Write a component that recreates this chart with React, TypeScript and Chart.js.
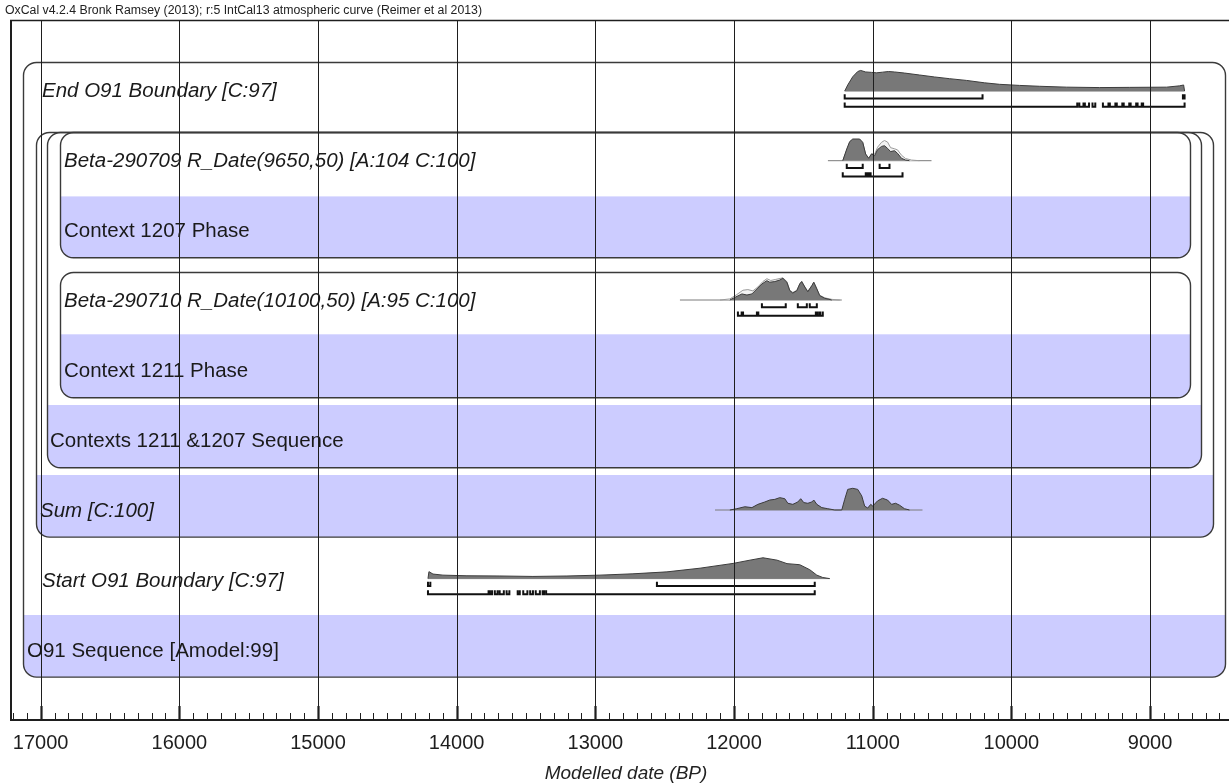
import React, { useEffect, useRef } from "react";
import { Chart, registerables } from "chart.js";

Chart.register(...registerables);

// ---------- text ----------
const HEADER = "OxCal v4.2.4 Bronk Ramsey (2013); r:5 IntCal13 atmospheric curve (Reimer et al 2013)";
const AXIS_TITLE = "Modelled date (BP)";
const MAJOR_TICKS = [17000, 16000, 15000, 14000, 13000, 12000, 11000, 10000, 9000];
const X_MIN = 8337;
const X_MAX = 17221;

const ROW_LABELS = [
  "End O91 Boundary [C:97]",
  "Beta-290709 R_Date(9650,50) [A:104 C:100]",
  "Context 1207 Phase",
  "Beta-290710 R_Date(10100,50) [A:95 C:100]",
  "Context 1211 Phase",
  "Contexts 1211 &1207 Sequence",
  "Sum [C:100]",
  "Start O91 Boundary [C:97]",
  "O91 Sequence [Amodel:99]",
];
const ROW_ITALIC = [true, true, false, true, false, false, true, true, false];

// ---------- End O91 Boundary ----------
const END_YEARS = [11202, 11180, 11144, 11108, 11087, 11051, 11008, 10972, 10929, 10886, 10843, 10771, 10663, 10555, 10446, 10324, 10194, 10085, 9941, 9797, 9602, 9364, 9148, 8881, 8787, 8758, 8751];
const END_DENS = [0, 0.28, 0.66, 0.9, 0.95, 0.88, 0.86, 0.84, 0.87, 0.9, 0.88, 0.83, 0.74, 0.65, 0.57, 0.49, 0.38, 0.31, 0.26, 0.22, 0.18, 0.16, 0.17, 0.18, 0.24, 0.28, 0];
const END_EXTENT = [11202, 8751];
const END_R68 = [[11202, 10208], [8763, 8751]];
const END_R95 = [[11202, 9525], [9510, 9480], [9470, 9440], [9415, 9395], [9340, 9300], [9290, 9250], [9240, 9200], [9190, 9150], [9140, 9100], [9090, 9060], [9050, 8751]];

// ---------- Beta-290709 ----------
const B709_YEARS = [11216, 11187, 11166, 11144, 11094, 11072, 11051, 11029, 11008, 10986, 10965, 10936, 10915, 10893, 10871, 10843, 10821, 10792, 10763, 10735];
const B709_DENS = [0, 0.54, 0.88, 1.0, 1.0, 0.85, 0.31, 0.11, 0.31, 0.23, 0.51, 0.66, 0.69, 0.57, 0.42, 0.46, 0.34, 0.11, 0.03, 0];
const B709_PRIOR_YEARS = [11216, 11187, 11166, 11144, 11094, 11072, 11051, 11029, 11008, 10986, 10965, 10936, 10915, 10893, 10871, 10843, 10821, 10792, 10763, 10720, 10663];
const B709_PRIOR_DENS = [0, 0.5, 0.85, 0.97, 0.97, 0.83, 0.3, 0.12, 0.33, 0.3, 0.62, 0.85, 0.93, 0.86, 0.6, 0.55, 0.5, 0.25, 0.1, 0.03, 0];
const B709_EXTENT = [11323, 10576];
const B709_R68 = [[11187, 11072], [10950, 10879]];
const B709_R95 = [[11216, 11050], [11040, 11028], [11015, 10785]];

// ---------- Beta-290710 ----------
const B710_YEARS = [12030, 11994, 11943, 11907, 11871, 11835, 11799, 11763, 11742, 11706, 11670, 11648, 11619, 11598, 11576, 11547, 11526, 11512, 11490, 11468, 11439, 11425, 11403, 11382, 11346, 11295];
const B710_DENS = [0, 0.12, 0.28, 0.23, 0.28, 0.51, 0.74, 0.89, 0.82, 0.85, 0.92, 1.0, 0.82, 0.43, 0.32, 0.43, 0.74, 0.85, 0.6, 0.38, 0.66, 0.82, 0.51, 0.2, 0.08, 0];
const B710_PRIOR_YEARS = [12101, 12030, 11980, 11936, 11900, 11864, 11828, 11792, 11763, 11735, 11699, 11648, 11619, 11598, 11576, 11547, 11526, 11512, 11490, 11468, 11439, 11425, 11403, 11382, 11346, 11295, 11238];
const B710_PRIOR_DENS = [0, 0.05, 0.25, 0.45, 0.48, 0.42, 0.6, 0.85, 0.98, 0.9, 0.95, 1.02, 0.85, 0.45, 0.35, 0.45, 0.75, 0.86, 0.62, 0.4, 0.66, 0.82, 0.52, 0.22, 0.1, 0.03, 0];
const B710_EXTENT = [12390, 11223];
const B710_R68 = [[11799, 11627], [11540, 11475], [11454, 11403]];
const B710_R95 = [[11972, 11945], [11935, 11835], [11825, 11410], [11400, 11385], [11378, 11360]];

// ---------- Sum ----------
const SUM_YEARS = [12030, 11980, 11922, 11871, 11828, 11778, 11742, 11706, 11670, 11634, 11612, 11576, 11540, 11519, 11497, 11468, 11439, 11425, 11403, 11367, 11324, 11274, 11223, 11202, 11180, 11144, 11108, 11079, 11058, 11036, 11014, 11000, 10965, 10929, 10893, 10864, 10835, 10806, 10771, 10735];
const SUM_DENS = [0, 0.06, 0.15, 0.11, 0.26, 0.37, 0.46, 0.49, 0.57, 0.52, 0.31, 0.26, 0.37, 0.52, 0.34, 0.31, 0.37, 0.46, 0.26, 0.11, 0.06, 0, 0, 0.49, 0.95, 1.0, 0.95, 0.65, 0.18, 0.09, 0.26, 0.18, 0.42, 0.54, 0.46, 0.26, 0.31, 0.22, 0.06, 0];
const SUM_EXTENT = [12137, 10641];

// ---------- Start O91 Boundary ----------
const START_YEARS = [14207, 14200, 14171, 14099, 13926, 13688, 13450, 13205, 12967, 12729, 12484, 12245, 12007, 11885, 11791, 11690, 11618, 11526, 11454, 11403, 11360, 11310];
const START_DENS = [0, 0.32, 0.21, 0.16, 0.13, 0.12, 0.1, 0.12, 0.16, 0.22, 0.31, 0.48, 0.7, 0.85, 0.96, 0.85, 0.69, 0.64, 0.41, 0.16, 0.05, 0];
const START_EXTENT = [14207, 11310];
const START_R68 = [[14207, 14190], [12556, 11418]];
const START_R95 = [[14207, 13770], [13760, 13745], [13725, 13705], [13690, 13660], [13640, 13620], [13560, 13545], [13520, 13490], [13470, 13450], [13430, 13400], [13380, 13370], [13355, 11418]];

// ---------- layout ----------
const AMP = 0.31; // row units for a density of 1
const TICK_UP = 0.06;
const OFF68 = 0.105;
const OFF95 = 0.225;
const LABEL_X = [42, 64, 64, 64, 64, 50, 40, 42, 27];
const BOXES = [
  { l: 23, r: 1225, top: 0.6, bottom: 9.38, band: 8.5 },
  { l: 36, r: 1213, top: 1.6, bottom: 7.38, band: 6.5 },
  { l: 47, r: 1201, top: 1.6, bottom: 6.39, band: 5.5 },
  { l: 60, r: 1190, top: 1.6, bottom: 3.39, band: 2.52 },
  { l: 60, r: 1190, top: 3.6, bottom: 5.39, band: 4.49 },
];

const DISTS = [
  { row: 1.015, years: END_YEARS, dens: END_DENS, extent: END_EXTENT, r68: END_R68, r95: END_R95 },
  { row: 2.01, years: B709_YEARS, dens: B709_DENS, pYears: B709_PRIOR_YEARS, pDens: B709_PRIOR_DENS, extent: B709_EXTENT, r68: B709_R68, r95: B709_R95 },
  { row: 4.0, years: B710_YEARS, dens: B710_DENS, pYears: B710_PRIOR_YEARS, pDens: B710_PRIOR_DENS, extent: B710_EXTENT, r68: B710_R68, r95: B710_R95 },
  { row: 7.0, years: SUM_YEARS, dens: SUM_DENS, extent: SUM_EXTENT },
  { row: 7.98, years: START_YEARS, dens: START_DENS, extent: START_EXTENT, r68: START_R68, r95: START_R95 },
];

const FONT = "'Liberation Sans', Arial, sans-serif";

type Pt = { x: number; y: number | null };

function curve(years: number[], dens: number[], row: number): Pt[] {
  return years.map((yr, i) => ({ x: yr, y: row - dens[i] * AMP }));
}
function brackets(ranges: number[][], level: number): Pt[] {
  const pts: Pt[] = [];
  ranges.forEach(([a, b]) => {
    pts.push({ x: a, y: level - TICK_UP }, { x: a, y: level }, { x: b, y: level }, { x: b, y: level - TICK_UP }, { x: b, y: null });
  });
  return pts;
}

function buildDatasets() {
  const ds: any[] = [];
  const base = { pointRadius: 0, tension: 0, spanGaps: false };
  DISTS.forEach((d: any) => {
    ds.push({ ...base, order: 6, data: [{ x: d.extent[0], y: d.row }, { x: d.extent[1], y: d.row }], borderColor: "#7a7a7a", borderWidth: 1, fill: false });
    if (d.pYears) {
      ds.push({ ...base, order: 5, data: curve(d.pYears, d.pDens, d.row), borderColor: "#9a9a9a", backgroundColor: "#f3f3f3", borderWidth: 1, fill: { value: d.row } });
    }
    ds.push({ ...base, order: 4, data: curve(d.years, d.dens, d.row), borderColor: "#3c3c3c", backgroundColor: "#787878", borderWidth: 1, fill: { value: d.row } });
    if (d.r68) {
      ds.push({ ...base, order: 2, data: brackets(d.r68, d.row + OFF68), borderColor: "#111", borderWidth: 2, borderJoinStyle: "miter", borderCapStyle: "butt", fill: false });
    }
    if (d.r95) {
      ds.push({ ...base, order: 2, data: brackets(d.r95, d.row + OFF95), borderColor: "#111", borderWidth: 2, borderJoinStyle: "miter", borderCapStyle: "butt", fill: false });
    }
  });
  return ds;
}

function roundRectPath(ctx: CanvasRenderingContext2D, x: number, y: number, w: number, h: number, r: number) {
  ctx.beginPath();
  ctx.moveTo(x + r, y);
  ctx.lineTo(x + w - r, y);
  ctx.arcTo(x + w, y, x + w, y + r, r);
  ctx.lineTo(x + w, y + h - r);
  ctx.arcTo(x + w, y + h, x + w - r, y + h, r);
  ctx.lineTo(x + r, y + h);
  ctx.arcTo(x, y + h, x, y + h - r, r);
  ctx.lineTo(x, y + r);
  ctx.arcTo(x, y, x + r, y, r);
  ctx.closePath();
}

const oxcalPlugin = {
  id: "oxcal",
  beforeDatasetsDraw(chart: any) {
    const { ctx, scales } = chart;
    const ys = scales.y;
    ctx.save();
    BOXES.forEach((b) => {
      const top = ys.getPixelForValue(b.top);
      const bottom = ys.getPixelForValue(b.bottom);
      const band = ys.getPixelForValue(b.band);
      ctx.save();
      roundRectPath(ctx, b.l + 0.5, top + 0.5, b.r - b.l, bottom - top, 13);
      ctx.clip();
      ctx.fillStyle = "#ccccff";
      ctx.fillRect(b.l, band, b.r - b.l + 1, bottom - band + 1);
      ctx.restore();
      roundRectPath(ctx, b.l + 0.5, top + 0.5, b.r - b.l, bottom - top, 13);
      ctx.strokeStyle = "#3a3a3a";
      ctx.lineWidth = 1.4;
      ctx.stroke();
    });
    ctx.fillStyle = "#1a1a1a";
    ctx.textBaseline = "middle";
    ctx.textAlign = "left";
    ROW_LABELS.forEach((t, i) => {
      ctx.font = `${ROW_ITALIC[i] ? "italic " : ""}20.5px ${FONT}`;
      ctx.fillText(t, LABEL_X[i], ys.getPixelForValue(i + 1.02));
    });
    ctx.restore();
  },
  afterDatasetsDraw(chart: any) {
    const { ctx, chartArea, scales } = chart;
    const xs = scales.x;
    const { left, right, top, bottom } = chartArea;
    ctx.save();
    ctx.strokeStyle = "#1e1e1e";
    // grid lines
    ctx.lineWidth = 1;
    MAJOR_TICKS.forEach((v) => {
      const px = Math.round(xs.getPixelForValue(v)) + 0.5;
      ctx.beginPath();
      ctx.moveTo(px, top);
      ctx.lineTo(px, bottom);
      ctx.stroke();
    });
    // minor / major tick marks
    for (let v = 8400; v <= 17200; v += 100) {
      const px = Math.round(xs.getPixelForValue(v)) + 0.5;
      const major = v % 1000 === 0;
      ctx.lineWidth = major ? 2.2 : 1;
      ctx.beginPath();
      ctx.moveTo(px, bottom);
      ctx.lineTo(px, bottom - (major ? 14 : 7));
      ctx.stroke();
    }
    // frame
    ctx.lineWidth = 1.5;
    ctx.beginPath();
    ctx.moveTo(left, top + 0.5);
    ctx.lineTo(right, top + 0.5);
    ctx.stroke();
    ctx.lineWidth = 2;
    ctx.beginPath();
    ctx.moveTo(left + 1, top);
    ctx.lineTo(left + 1, bottom);
    ctx.stroke();
    ctx.beginPath();
    ctx.moveTo(left, bottom);
    ctx.lineTo(right, bottom);
    ctx.stroke();
    // header
    ctx.fillStyle = "#222";
    ctx.font = `12.3px ${FONT}`;
    ctx.textBaseline = "alphabetic";
    ctx.textAlign = "left";
    ctx.fillText(HEADER, 5, 14);
    ctx.restore();
  },
};

export default function App() {
  const ref = useRef<HTMLCanvasElement | null>(null);
  useEffect(() => {
    if (!ref.current) return;
    const chart = new Chart(ref.current, {
      type: "line",
      data: { datasets: buildDatasets() },
      options: {
        animation: false,
        responsive: false,
        devicePixelRatio: 1,
        layout: { padding: { left: 10, top: 20, right: 0, bottom: 0 } },
        plugins: { legend: { display: false }, tooltip: { enabled: false }, title: { display: false } },
        scales: {
          x: {
            type: "linear",
            reverse: true,
            min: X_MIN,
            max: X_MAX,
            afterBuildTicks: (s: any) => {
              s.ticks = MAJOR_TICKS.map((v) => ({ value: v }));
            },
            afterFit: (s: any) => {
              s.height = 63;
            },
            ticks: {
              callback: (v: any) => String(v),
              font: { size: 20, family: FONT },
              color: "#1e1e1e",
              padding: 3,
              maxRotation: 0,
              autoSkip: false,
            },
            grid: { display: false },
            border: { display: false },
            title: {
              display: true,
              text: AXIS_TITLE,
              font: { size: 19, style: "italic", family: FONT, lineHeight: 1 },
              color: "#222",
              padding: 0,
            },
          },
          y: { type: "linear", min: 0, max: 10, reverse: true, display: false },
        },
      } as any,
      plugins: [oxcalPlugin],
    });
    return () => chart.destroy();
  }, []);
  return (
    <div style={{ position: "fixed", left: 0, top: 0, width: 1229, height: 783, overflow: "hidden", background: "#fff" }}>
      <canvas ref={ref} width={1242} height={783} style={{ display: "block", width: 1242, height: 783 }} />
    </div>
  );
}
